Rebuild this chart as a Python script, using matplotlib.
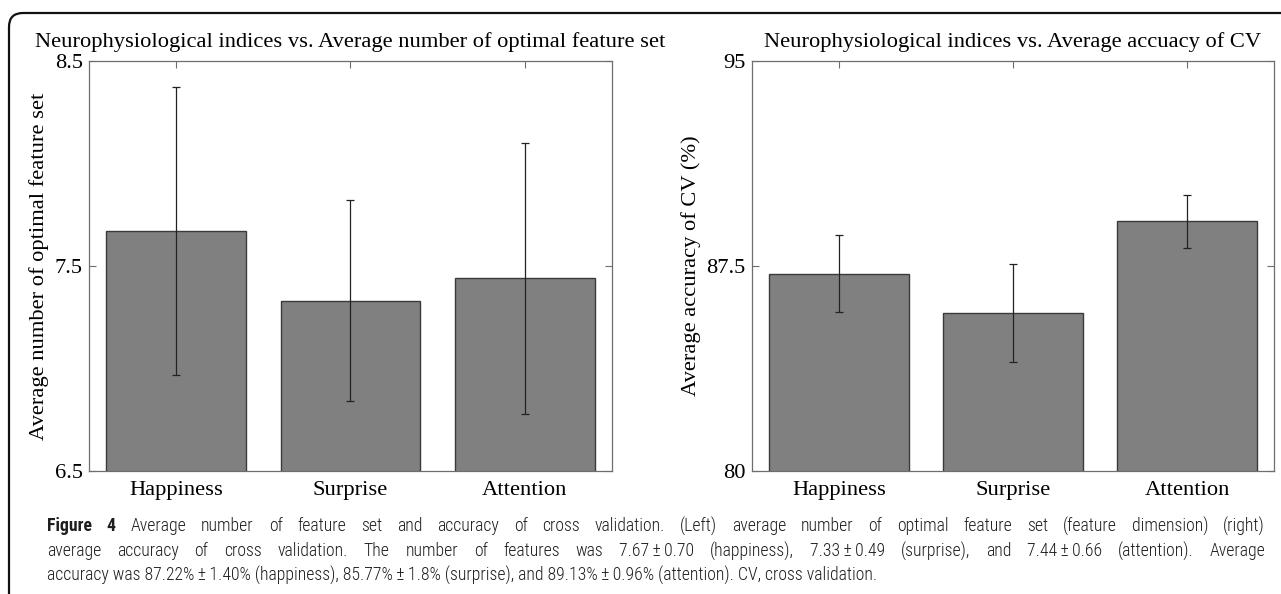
import matplotlib
matplotlib.use("Agg")
import matplotlib.pyplot as plt
from matplotlib import font_manager as fm
from matplotlib.patches import FancyBboxPatch
from matplotlib.transforms import IdentityTransform

# ---- data ----
categories = ["Happiness", "Surprise", "Attention"]
features_mean = [7.67, 7.33, 7.44]
features_sd = [0.70, 0.49, 0.66]
accuracy_mean = [87.22, 85.77, 89.13]
accuracy_sd = [1.40, 1.80, 0.96]

left_yticks = [6.5, 7.5, 8.5]
left_yticklabels = ["6.5", "7.5", "8.5"]
right_yticks = [80, 87.5, 95]
right_yticklabels = ["80", "87.5", "95"]

left_title = "Neurophysiological indices vs. Average number of optimal feature set"
right_title = "Neurophysiological indices vs. Average accuacy of CV"
left_ylabel = "Average number of optimal feature set"
right_ylabel = "Average accuracy of CV (%)"

caption_bold = "Figure 4"
caption_line1 = ("Average number of feature set and accuracy of cross validation. (Left) average "
                 "number of optimal feature set (feature dimension) (right)")
caption_line2 = ("average accuracy of cross validation. The number of features was 7.67\u2009\u00b1\u20090.70 "
                 "(happiness), 7.33\u2009\u00b1\u20090.49 (surprise), and 7.44\u2009\u00b1\u20090.66 (attention). Average")
caption_line3 = ("accuracy was 87.22%\u2009\u00b1\u20091.40% (happiness), 85.77%\u2009\u00b1\u20091.8% (surprise), "
                 "and 89.13%\u2009\u00b1\u20090.96% (attention). CV, cross validation.")

W, H = 1281, 594
DPI = 100
fig = plt.figure(figsize=(W / DPI, H / DPI), dpi=DPI)

serif = "Liberation Serif"
FS = 16.2
bar_face = "#808080"
bar_edge = "#3a3a3a"
spine_col = "#6e6e6e"


def px_axes(x0, x1, ytop, ybot):
    return [x0 / W, 1 - ybot / H, (x1 - x0) / W, (ybot - ytop) / H]


def draw(ax, means, sds, ylim, yticks, yticklabels, title, ylabel):
    x = list(range(1, len(categories) + 1))
    ax.bar(x, means, width=0.8, color=bar_face, edgecolor=bar_edge, linewidth=1.0, zorder=2)
    ax.errorbar(x, means, yerr=sds, fmt="none", ecolor="#222222", elinewidth=0.9,
                capsize=3, capthick=0.9, zorder=3)
    ax.set_xlim(0.5, len(categories) + 0.5)
    ax.set_ylim(*ylim)
    ax.set_xticks(x)
    ax.set_xticklabels(categories, fontfamily=serif, fontsize=FS)
    ax.set_yticks(yticks)
    ax.set_yticklabels(yticklabels, fontfamily=serif, fontsize=FS)
    ax.tick_params(direction="in", length=5, width=0.8, color=spine_col, top=True, right=True,
                   labeltop=False, labelright=False)
    ax.tick_params(axis="y", pad=4.5)
    ax.tick_params(axis="x", pad=7)
    for s in ax.spines.values():
        s.set_color(spine_col)
        s.set_linewidth(0.9)
    ax.set_title(title, fontfamily=serif, fontsize=FS, pad=10)
    ax.set_ylabel(ylabel, fontfamily=serif, fontsize=FS, labelpad=4)


ax1 = fig.add_axes(px_axes(89, 612, 60.7, 471))
draw(ax1, features_mean, features_sd, (6.5, 8.5), left_yticks, left_yticklabels, left_title, left_ylabel)

ax2 = fig.add_axes(px_axes(752, 1274, 60.7, 471))
draw(ax2, accuracy_mean, accuracy_sd, (80, 95), right_yticks, right_yticklabels, right_title, right_ylabel)

# figure frame (rounded, clipped by image edges on right/bottom)
frame = FancyBboxPatch((9, -40), 1330, H - 13 + 40, boxstyle="round,pad=0,rounding_size=14",
                       transform=IdentityTransform(), fill=False, edgecolor="#111111",
                       linewidth=1.6, clip_on=False)
fig.patches.append(frame)


# ---- caption ----
def have_font(fam, stretch="normal"):
    try:
        return fm.findfont(fm.FontProperties(family=fam, stretch=stretch), fallback_to_default=False)
    except Exception:
        return None


cap_stretch = "normal"
if have_font("Roboto Condensed"):
    cap_font = ["Roboto Condensed", "DejaVu Sans"]
elif have_font("Liberation Sans Narrow"):
    cap_font = ["Liberation Sans Narrow", "DejaVu Sans"]
else:
    p = have_font("DejaVu Sans", "condensed")
    if p and "Condensed" in p:
        cap_font = ["DejaVu Sans", "Roboto"]
        cap_stretch = "condensed"
    else:
        cap_font = ["Roboto", "DejaVu Sans"]

cap_col = "#1e1e1e"
cap_weight = "light"
cap_left = 47
cap_right = 1265
line2_fill = 0.84
line_y = [526, 551, 575]

fig.canvas.draw()
renderer = fig.canvas.get_renderer()


def text_width(s, size, weight=cap_weight):
    t = fig.text(0, 0, s, fontfamily=cap_font, fontsize=size, fontweight=weight, fontstretch=cap_stretch)
    w = t.get_window_extent(renderer).width
    t.remove()
    return w


CFS = 12.0 * line2_fill * (cap_right - cap_left) / text_width(caption_line2, 12.0)


def justified(words, y):
    widths = [text_width(w, CFS, wt) for w, wt in words]
    gap = (cap_right - cap_left - sum(widths)) / (len(words) - 1)
    x = cap_left
    for (w, wt), wd in zip(words, widths):
        fig.text(x / W, 1 - y / H, w, fontfamily=cap_font, fontsize=CFS, fontweight=wt,
                 fontstretch=cap_stretch, color=cap_col, va="center", ha="left")
        x += wd + gap


words1 = [(w, "bold") for w in caption_bold.split()] + [(w, cap_weight) for w in caption_line1.split(" ")]
words2 = [(w, cap_weight) for w in caption_line2.split(" ")]
justified(words1, line_y[0])
justified(words2, line_y[1])
fig.text(cap_left / W, 1 - line_y[2] / H, caption_line3, fontfamily=cap_font, fontsize=CFS,
         fontweight=cap_weight, fontstretch=cap_stretch, color=cap_col, va="center", ha="left")

fig.savefig("out.png", dpi=DPI)
